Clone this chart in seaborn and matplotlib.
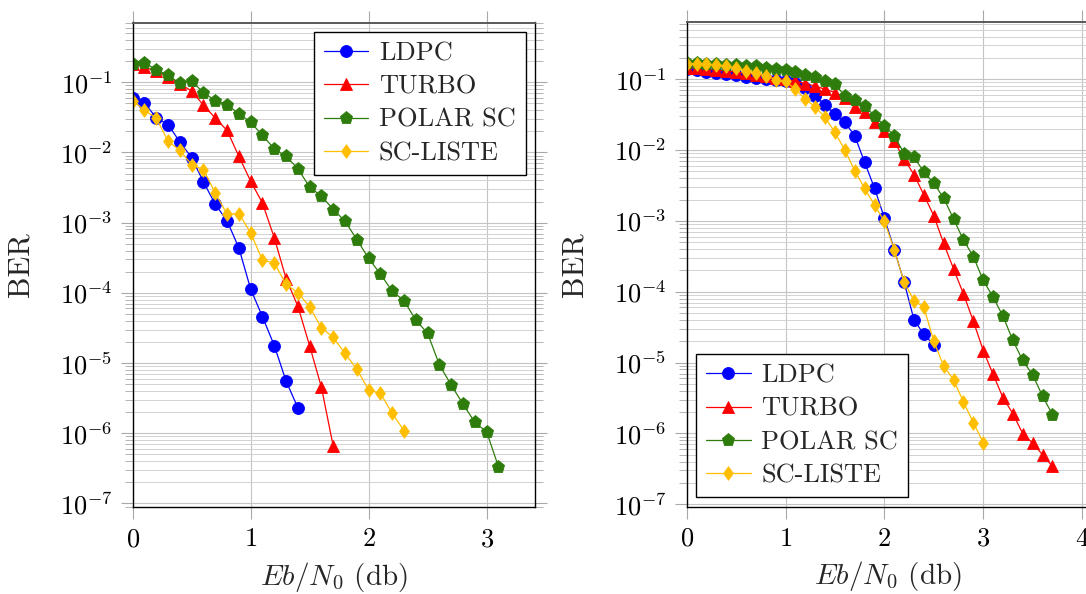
import numpy as np
import pandas as pd
import matplotlib
matplotlib.use("Agg")
import matplotlib.pyplot as plt
import seaborn as sns
from matplotlib.ticker import LogLocator, NullLocator, FixedLocator, LogFormatterSciNotation

# ---------------------------------------------------------------- data
codes = ["LDPC", "TURBO", "POLAR SC", "SC-LISTE"]

# Eb/N0 grid (dB), 0.1 dB steps
snr_grid = [0.0, 0.1, 0.2, 0.3, 0.4, 0.5, 0.6, 0.7, 0.8, 0.9,
            1.0, 1.1, 1.2, 1.3, 1.4, 1.5, 1.6, 1.7, 1.8, 1.9,
            2.0, 2.1, 2.2, 2.3, 2.4, 2.5, 2.6, 2.7, 2.8, 2.9,
            3.0, 3.1, 3.2, 3.3, 3.4, 3.5, 3.6, 3.7]

# left panel
ber_ldpc_a = [0.060, 0.0505, 0.0313, 0.025, 0.0141, 0.00843, 0.0038, 0.00183,
              0.00106, 4.36e-4, 1.13e-4, 4.57e-5, 1.78e-5, 5.55e-6, 2.31e-6]
ber_turbo_a = [0.185, 0.165, 0.143, 0.12, 0.095, 0.075, 0.047, 0.031, 0.0206,
               0.0088, 0.0039, 0.0019, 6.1e-4, 1.6e-4, 6.45e-5, 1.76e-5,
               4.5e-6, 6.5e-7]
ber_polar_a = [0.183, 0.189, 0.151, 0.125, 0.097, 0.104, 0.071, 0.055, 0.048,
               0.0356, 0.027, 0.0175, 0.0113, 0.0088, 0.0059, 0.0032, 0.0024,
               0.00154, 0.00105, 5.75e-4, 3.1e-4, 1.85e-4, 1.06e-4, 7.7e-5,
               4.1e-5, 2.65e-5, 9.4e-6, 4.86e-6, 2.6e-6, 1.43e-6, 1.05e-6,
               3.35e-7]
ber_scl_a = [0.055, 0.0397, 0.031, 0.0144, 0.0107, 0.0067, 0.0057, 0.00265,
             0.00132, 0.00135, 7.15e-4, 2.92e-4, 2.67e-4, 1.32e-4, 1.01e-4,
             6.3e-5, 3.18e-5, 2.32e-5, 1.37e-5, 8.2e-6, 4.13e-6, 3.7e-6,
             1.92e-6, 1.09e-6]

# right panel
ber_ldpc_b = [0.138, 0.134, 0.128, 0.123, 0.12, 0.115, 0.109, 0.105, 0.1,
              0.097, 0.093, 0.087, 0.074, 0.058, 0.0435, 0.032, 0.0245,
              0.0159, 0.0067, 0.0029, 0.0011, 3.93e-4, 1.36e-4, 4.0e-5,
              2.49e-5, 1.78e-5]
ber_turbo_b = [0.145, 0.142, 0.138, 0.134, 0.13, 0.126, 0.121, 0.116, 0.11,
               0.104, 0.099, 0.0946, 0.0867, 0.080, 0.072, 0.0648, 0.055,
               0.041, 0.0339, 0.0245, 0.0187, 0.0132, 0.00745, 0.00448,
               0.00232, 0.00118, 4.8e-4, 2.1e-4, 9.3e-5, 3.84e-5, 1.48e-5,
               6.8e-6, 3.19e-6, 1.9e-6, 9.9e-7, 7.3e-7, 5.0e-7, 3.43e-7]
ber_polar_b = [0.171, 0.168, 0.166, 0.163, 0.159, 0.157, 0.154, 0.151, 0.146,
               0.141, 0.134, 0.127, 0.114, 0.108, 0.0946, 0.085, 0.058,
               0.0506, 0.042, 0.0304, 0.022, 0.0159, 0.0089, 0.00785,
               0.00493, 0.00338, 0.0021, 0.00106, 5.37e-4, 3.13e-4, 1.44e-4,
               8.4e-5, 4.5e-5, 2.05e-5, 1.07e-5, 6.7e-6, 3.37e-6, 1.84e-6]
ber_scl_b = [0.166, 0.165, 0.163, 0.159, 0.154, 0.144, 0.132, 0.122, 0.111,
             0.098, 0.093, 0.072, 0.052, 0.0407, 0.0288, 0.0177, 0.01, 0.0051,
             0.00287, 0.00167, 9.85e-4, 3.93e-4, 1.36e-4, 7.5e-5, 6.0e-5,
             2.0e-5, 8.9e-6, 5.7e-6, 2.77e-6, 1.42e-6, 7.4e-7]

x_ticks_a = [0, 1, 2, 3]
x_ticks_b = [0, 1, 2, 3, 4]
x_label = r"$Eb/N_0$ (db)"
y_label = "BER"

# ---------------------------------------------------------------- style
sns.set_theme(style="white")
plt.rcParams["font.family"] = ["cmr10", "DejaVu Serif"]
plt.rcParams["mathtext.fontset"] = "cm"
plt.rcParams["axes.formatter.use_mathtext"] = True
plt.rcParams["axes.unicode_minus"] = True

colors = {"LDPC": "#0000ff", "TURBO": "#ff0000",
          "POLAR SC": "#2e7d0c", "SC-LISTE": "#ffbf00"}
diamond = [(0, 1), (0.72, 0), (0, -1), (-0.72, 0), (0, 1)]
markers = {"LDPC": "o", "TURBO": "^", "POLAR SC": "p", "SC-LISTE": diamond}
msizes = {"LDPC": 8.6, "TURBO": 8.2, "POLAR SC": 9.6, "SC-LISTE": 9.8}

W, H = 1086, 594
fig = plt.figure(figsize=(W / 100, H / 100), dpi=100)

ax_l = fig.add_axes([132.7 / W, 1 - 507.0 / H, 402.3 / W, 484.5 / H])
ax_r = fig.add_axes([686.7 / W, 1 - 506.7 / H, 402.3 / W, 484.4 / H])

panels = [
    (ax_l, [ber_ldpc_a, ber_turbo_a, ber_polar_a, ber_scl_a], x_ticks_a, "upper right"),
    (ax_r, [ber_ldpc_b, ber_turbo_b, ber_polar_b, ber_scl_b], x_ticks_b, "lower left"),
]

for ax, series, xticks, legend_loc in panels:
    frames = []
    for code, ber in zip(codes, series):
        frames.append(pd.DataFrame({"snr": snr_grid[:len(ber)], "ber": ber, "code": code}))
    df = pd.concat(frames, ignore_index=True)

    for code in codes:
        sub = df[df["code"] == code]
        sns.lineplot(data=sub, x="snr", y="ber", ax=ax, color=colors[code],
                     marker=markers[code], markersize=msizes[code],
                     markeredgecolor=colors[code], markeredgewidth=0.6,
                     linewidth=0.9, estimator=None, sort=False, label=code)

    ax.set_yscale("log")

    # axis limits: data range widened by 10 % (log range on y)
    xmax = max(df["snr"])
    ax.set_xlim(0, xmax * 1.1)
    lo, hi = np.log10(df["ber"].min()), np.log10(df["ber"].max())
    pad = 0.1 * (hi - lo)
    ax.set_ylim(10 ** (lo - pad), 10 ** (hi + pad))

    ax.xaxis.set_major_locator(FixedLocator(xticks))
    ax.xaxis.set_minor_locator(NullLocator())
    ax.yaxis.set_major_locator(LogLocator(base=10, numticks=30))
    ax.yaxis.set_minor_locator(LogLocator(base=10, subs=np.arange(2, 10), numticks=30))
    ax.yaxis.set_major_formatter(LogFormatterSciNotation())

    ax.set_axisbelow(True)
    ax.grid(which="major", axis="both", color="#c4c4c4", linewidth=0.8)
    ax.grid(which="minor", axis="y", color="#d2d2d2", linewidth=0.7)

    ax.tick_params(which="both", direction="out", top=True, right=True,
                   color="#a8a8a8", labelcolor="black", labelsize=19,
                   left=True, bottom=True)
    ax.tick_params(which="major", length=8.6, width=0.8, pad=6)
    ax.tick_params(which="minor", length=5.8, width=0.6)
    ax.tick_params(axis="x", which="major", pad=6)

    for side in ["left", "right", "bottom"]:
        ax.spines[side].set_color("black")
        ax.spines[side].set_linewidth(1.0)
    ax.spines["top"].set_color("#5a5a5a")
    ax.spines["top"].set_linewidth(1.4)

    ax.set_xlabel(x_label, fontsize=21)
    ax.set_ylabel(y_label, fontsize=22)
    ax.yaxis.set_label_coords(-0.243, 0.5)
    ax.xaxis.set_label_coords(0.5, -0.109)
    ax.xaxis.label.set_va("top")

    leg = ax.legend(loc=legend_loc, fontsize=19, frameon=True, fancybox=False,
                    edgecolor="black", framealpha=1.0, borderaxespad=0.35,
                    handlelength=1.7, handletextpad=0.4, labelspacing=0.36,
                    borderpad=0.38)
    leg.get_frame().set_linewidth(1.0)

fig.savefig("out.png", dpi=100)
